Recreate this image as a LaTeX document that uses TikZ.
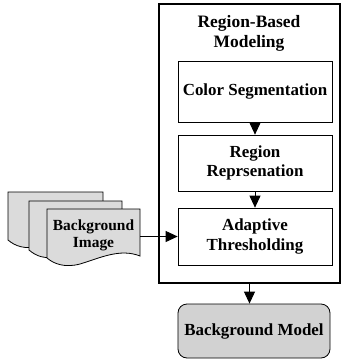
\documentclass[tikz,border=0pt]{standalone}
\usepackage{fontspec}
\setmainfont{Liberation Serif}
\usetikzlibrary{arrows.meta}
\begin{document}
\begin{tikzpicture}[x=1bp,y=-1bp,
  stage/.style={draw, line width=0.7bp, minimum width=154bp, inner xsep=2bp, align=center,
    font=\fontsize{17}{19.5}\selectfont\bfseries},
  frame/.style={draw, line width=1.1bp, minimum width=181bp, minimum height=279bp},
  flow/.style={line width=0.9bp, -{Triangle[width=11bp,length=12bp]}},
  docsheet/.style={draw, line width=0.8bp, fill=gray!28},
  modelbox/.style={draw, line width=0.8bp, fill=gray!35, rounded corners=9bp,
    minimum width=152bp, minimum height=54bp, inner xsep=2bp,
    font=\fontsize{17}{19.5}\selectfont\bfseries}]
\useasboundingbox (0,0) rectangle (342,361);

% outer module frame with its title
\node[frame] (outer) at (249.5,143.5) {};
\node[align=center, font=\fontsize{17.5}{20}\selectfont\bfseries] (title) at (249,33) {Region-Based\\Modeling};

% processing stages
\node[stage, minimum height=61bp] (colseg) at (255,91.5) {Color Segmentation};
\node[stage, minimum height=56bp] (regrep) at (255,163) {Region\\Reprsenation};
\node[stage, minimum height=57bp] (adapt) at (255,236.5) {Adaptive\\Thresholding};

% output
\node[modelbox] (model) at (254,331) {Background Model};

% stacked image sheets with wavy lower edges
\draw[docsheet] (8,192) -- (103,192) -- (103,236)
  .. controls (80,226) and (60,240) .. (40,246)
  .. controls (25,250) and (15,246) .. (8,240) -- cycle;
\draw[docsheet] (29,201) -- (122,201) -- (122,246)
  .. controls (100,236) and (80,250) .. (60,256)
  .. controls (45,260) and (36,256) .. (29,250) -- cycle;
\draw[docsheet] (47,209) -- (140,209) -- (140,256)
  .. controls (120,248) and (100,258) .. (80,264)
  .. controls (65,268) and (54,264) .. (47,258) -- cycle;
\node[minimum width=93bp, minimum height=47bp, inner sep=0pt, align=center,
  font=\fontsize{15.5}{17}\selectfont\bfseries] (bgimg) at (93.5,235) {Background\\Image};

% connectors
\draw[flow] (colseg) -- (regrep);
\draw[flow] (regrep) -- (adapt);
\draw[flow] (bgimg.east |- adapt.west) -- (adapt.west);
\draw[flow] (outer.south) -- (outer.south |- model.north);
\end{tikzpicture}
\end{document}
